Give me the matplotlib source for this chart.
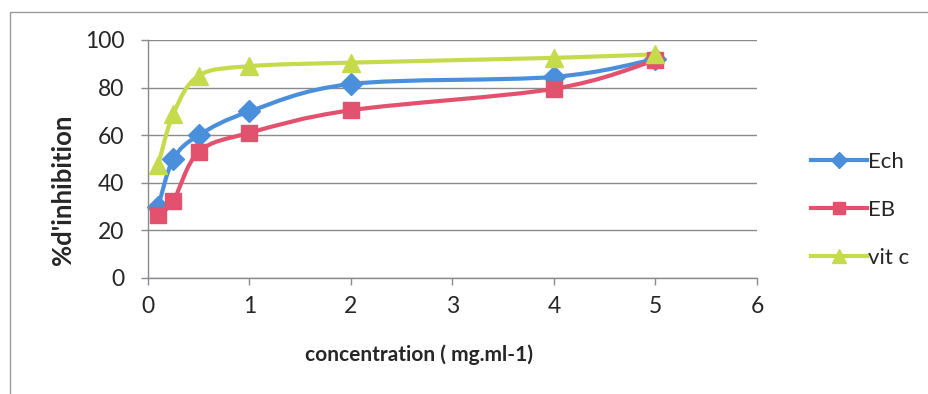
import numpy as np
import matplotlib
matplotlib.use("Agg")
import matplotlib.pyplot as plt
from matplotlib.path import Path
from matplotlib.patches import PathPatch, Rectangle
from matplotlib.lines import Line2D

# data
conc = [0.1, 0.25, 0.5, 1, 2, 4, 5]
ech = [30, 50, 60, 70, 81.5, 84.5, 92]
eb = [26.5, 32.5, 53, 61, 70.5, 79.5, 91.5]
vitc = [47.5, 69, 85, 89, 90.5, 92.5, 94]

series_names = ["Ech", "EB", "vit c"]
series_values = [ech, eb, vitc]
colors = ["#4a8fdc", "#e2526e", "#c6db4c"]
markers = ["D", "s", "^"]
marker_sizes = [11, 12, 13]

x_ticks = [0, 1, 2, 3, 4, 5, 6]
y_ticks = [0, 20, 40, 60, 80, 100]

W, H = 929, 394
plt.rcParams['font.family'] = ['Lato', 'DejaVu Sans']
text_color = '#262626'
grid_color = '#8a8a8e'


def smooth_path(ax, x, y):
    # Excel-like smoothed line: cubic bezier through the points, built in display space
    pts = ax.transData.transform(np.column_stack([x, y]))
    n = len(pts)
    verts = [pts[0]]
    codes = [Path.MOVETO]
    for i in range(n - 1):
        p0 = pts[max(i - 1, 0)]
        p1 = pts[i]
        p2 = pts[i + 1]
        p3 = pts[min(i + 2, n - 1)]
        c1 = p1 + (p2 - p0) / 6.0
        c2 = p2 - (p3 - p1) / 6.0
        verts += [c1, c2, p2]
        codes += [Path.CURVE4] * 3
    verts = ax.transData.inverted().transform(np.array(verts))
    return Path(verts, codes)


fig = plt.figure(figsize=(W / 100, H / 100), dpi=100)
ax = fig.add_axes([148 / W, 1 - 278 / H, (757 - 148) / W, (278 - 40) / H])

ax.set_xlim(0, 6)
ax.set_ylim(0, 100)
ax.set_xticks(x_ticks)
ax.set_yticks(y_ticks)
ax.tick_params(axis='both', direction='out', length=5, width=1, color=grid_color,
               labelsize=16.5, labelcolor=text_color)
ax.tick_params(axis='x', pad=8)
ax.tick_params(axis='y', pad=12)

for side in ['top', 'right']:
    ax.spines[side].set_visible(False)
for side in ['left', 'bottom']:
    ax.spines[side].set_color(grid_color)
    ax.spines[side].set_linewidth(1)

ax.yaxis.grid(True, color=grid_color, linewidth=1)
ax.set_axisbelow(True)

handles = []
for name, vals, col, mk, ms in zip(series_names, series_values, colors, markers, marker_sizes):
    ax.add_patch(PathPatch(smooth_path(ax, conc, vals), facecolor='none',
                           edgecolor=col, linewidth=3, capstyle='round', joinstyle='round'))
    ax.plot(conc, vals, linestyle='none', marker=mk, markersize=ms,
            markerfacecolor=col, markeredgecolor=col, clip_on=False)
    handles.append(Line2D([], [], color=col, linewidth=3, marker=mk,
                          markersize=ms * 0.75, markerfacecolor=col, markeredgecolor=col))

fig.legend(handles, series_names, loc='center left',
           bbox_to_anchor=(791 / W, 1 - 210 / H), frameon=False,
           fontsize=16, handlelength=2.5, handletextpad=0.05, labelspacing=1.27,
           labelcolor=text_color)

fig.text(63 / W, 1 - 190 / H, "%d'inhibition", rotation=90, ha='center', va='center',
         fontsize=18.5, fontweight='bold', color=text_color)
fig.text(419 / W, 1 - 355 / H, "concentration ( mg.ml-1)", ha='center', va='center',
         fontsize=15, fontweight='bold', color=text_color)

# outer chart frame
fig.patches.append(Rectangle((10 / W, -0.1), 1.2, 1.1 - 12 / H, transform=fig.transFigure,
                             facecolor='none', edgecolor='#9a9a9a', linewidth=1))

fig.savefig("out.png", dpi=100)
